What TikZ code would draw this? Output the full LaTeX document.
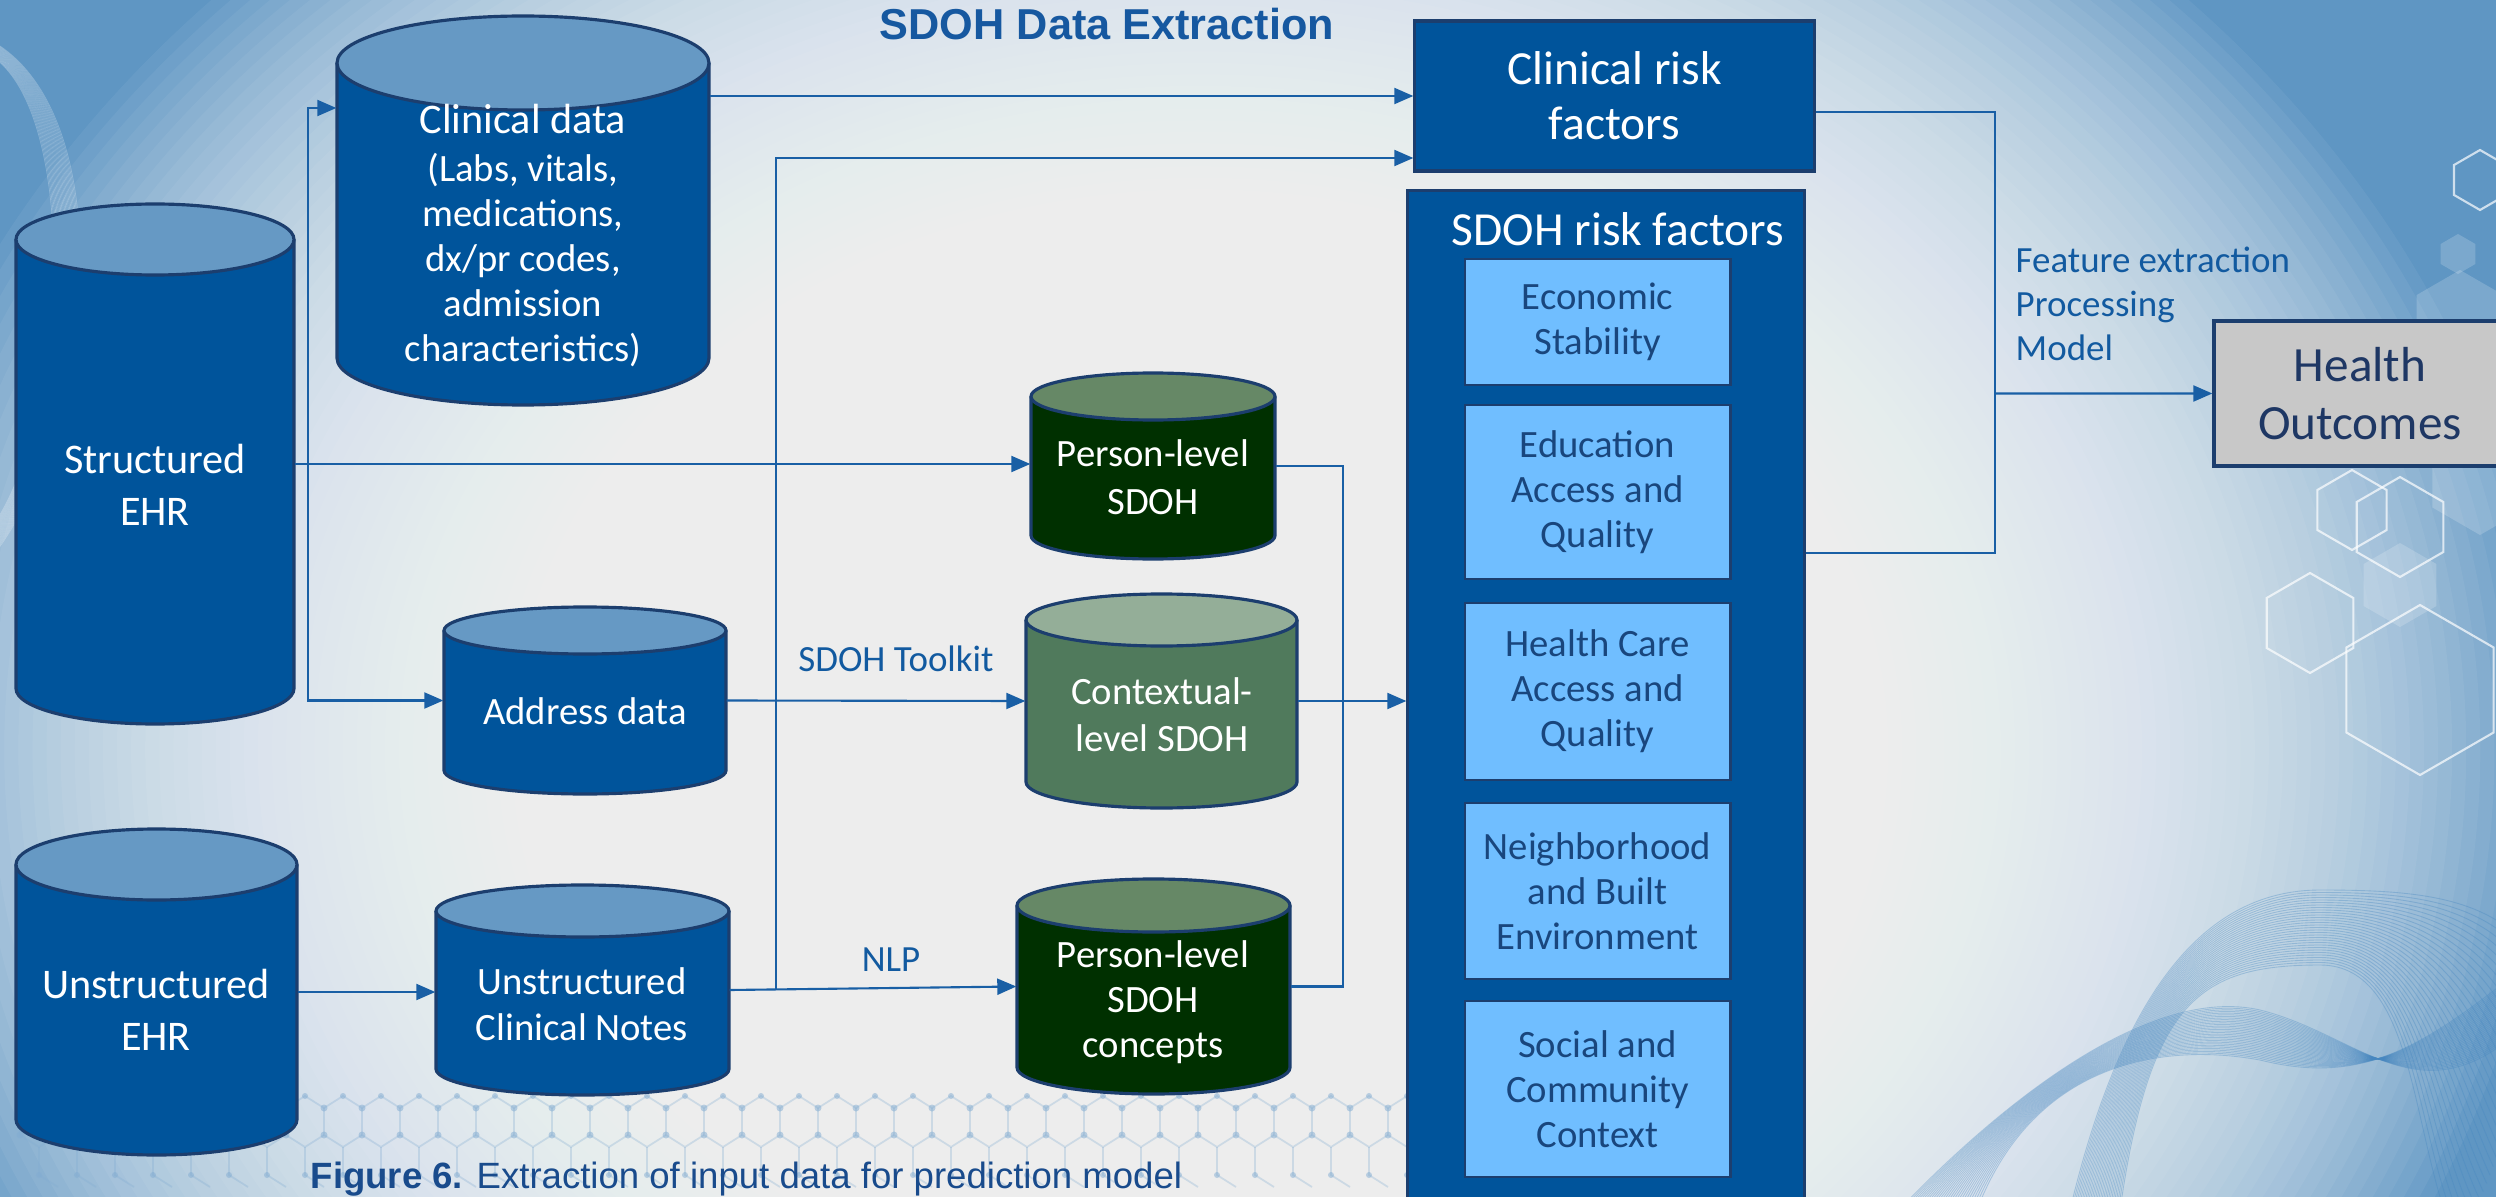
\documentclass[tikz,border=0pt]{standalone}
\usepackage{fontspec}
\setmainfont{Carlito}
\newfontfamily\arialfont{Liberation Sans}
\usetikzlibrary{arrows.meta,fit,calc}

\definecolor{cylBlue}{RGB}{0,84,155}
\definecolor{cylBlueTop}{RGB}{102,153,196}
\definecolor{cylEdge}{RGB}{28,62,110}
\definecolor{dkGreen}{RGB}{0,48,0}
\definecolor{dkGreenTop}{RGB}{102,136,102}
\definecolor{mdGreen}{RGB}{80,122,92}
\definecolor{mdGreenTop}{RGB}{148,174,152}
\definecolor{lightBox}{RGB}{112,190,255}
\definecolor{navyText}{RGB}{25,70,125}
\definecolor{hoText}{RGB}{30,55,100}
\definecolor{lineBlue}{RGB}{25,95,165}
\definecolor{labelBlue}{RGB}{18,90,160}
\definecolor{titleBlue}{RGB}{22,88,160}
\definecolor{capBlue}{RGB}{25,75,140}
\definecolor{outGray}{RGB}{200,200,200}
\definecolor{bgBase}{RGB}{95,150,195}
\definecolor{waveC}{RGB}{70,135,192}
\definecolor{molC}{RGB}{130,172,210}

\newcommand{\drawcyl}[8]{%
 \pgfmathsetmacro{\cyCX}{(#2+#3)/2}%
 \pgfmathsetmacro{\cyRX}{(#3-#2)/2}%
 \pgfmathsetmacro{\cyEY}{#6/2}%
 \pgfmathsetmacro{\cyYT}{#4+\cyEY}%
 \pgfmathsetmacro{\cyYB}{#5-\cyEY}%
 \pgfmathsetmacro{\cyKX}{0.5523*\cyRX}%
 \pgfmathsetmacro{\cyKY}{0.5523*\cyEY}%
 \fill[#7] (#2,\cyYT) -- (#2,\cyYB) .. controls (#2,\cyYB+\cyKY) and (\cyCX-\cyKX,#5) .. (\cyCX,#5)
   .. controls (\cyCX+\cyKX,#5) and (#3,\cyYB+\cyKY) .. (#3,\cyYB) -- (#3,\cyYT) -- cycle;
 \draw[cyledge] (#2,\cyYT) -- (#2,\cyYB) .. controls (#2,\cyYB+\cyKY) and (\cyCX-\cyKX,#5) .. (\cyCX,#5)
   .. controls (\cyCX+\cyKX,#5) and (#3,\cyYB+\cyKY) .. (#3,\cyYB) -- (#3,\cyYT);
 \filldraw[cyledge, fill=#8] (#2,\cyYT) .. controls (#2,\cyYT-\cyKY) and (\cyCX-\cyKX,#4) .. (\cyCX,#4)
   .. controls (\cyCX+\cyKX,#4) and (#3,\cyYT-\cyKY) .. (#3,\cyYT)
   .. controls (#3,\cyYT+\cyKY) and (\cyCX+\cyKX,\cyYT+\cyEY) .. (\cyCX,\cyYT+\cyEY)
   .. controls (\cyCX-\cyKX,\cyYT+\cyEY) and (#2,\cyYT+\cyKY) .. (#2,\cyYT) -- cycle;
 \node[fit={(#2,#4) (#3,#5)}, inner sep=0pt, draw=none] (#1) {};
}

\newcommand{\hexag}[4]{%
 \path[#4] (#1,#2) +(30:#3) -- +(90:#3) -- +(150:#3) -- +(210:#3) -- +(270:#3) -- +(330:#3) -- cycle;}

\begin{document}
\begin{tikzpicture}[x=0.01cm, y=-0.01cm,
  cyledge/.style={draw=cylEdge, line width=0.9pt},
  conn/.style={draw=lineBlue, line width=0.6pt, -{Triangle[length=0.19cm,width=0.16cm]}},
  plain/.style={draw=lineBlue, line width=0.6pt},
  cyltxt/.style={text=white, align=center, inner sep=0pt},
  lbl/.style={text=labelBlue, inner sep=0pt, font=\fontsize{10.5}{12.5}\selectfont},
  sbox/.style={fill=lightBox, draw=cylEdge, line width=0.8pt, minimum width=2.65cm, inner sep=0pt,
     text=navyText, align=center, font=\fontsize{11}{12.8}\selectfont},
  wave/.style={draw=waveC, line width=0.25pt, opacity=0.35},
  wavew/.style={draw=white, line width=0.2pt, opacity=0.25},
  hexo/.style={draw=white, line width=0.6pt, opacity=0.7},
  hexf/.style={fill=white, opacity=0.18},
  mol/.style={draw=molC, line width=0.5pt, opacity=0.3},
  moldot/.style={fill=molC, opacity=0.5}]

\useasboundingbox (0,0) rectangle (2496,1197);
\clip (0,0) rectangle (2496,1197);

% ---------- background ----------
\fill[bgBase] (0,0) rectangle (2496,1197);
\foreach \i in {0,...,69} {
  \pgfmathsetmacro{\gs}{1-0.72*\i/69}
  \pgfmathsetmacro{\grx}{13.5*\gs}
  \pgfmathsetmacro{\gry}{11*\gs}
  \fill[white, opacity=0.055] (1200,750) ellipse [x radius=\grx cm, y radius=\gry cm];
}

\foreach \i in {0,...,20} {
  \pgfmathsetmacro{\wt}{\i/20}
  \draw[wavew] (-10,40+15*\wt) .. controls (120-40*\wt,110) and (100-30*\wt,420) .. (-10,560-30*\wt);
}
\foreach \i in {0,...,30} {
  \pgfmathsetmacro{\wt}{\i/30}
  \draw[wave] (2070+50*\wt,1210) .. controls (2120+30*\wt,1000) and (2200,890+75*\wt) .. (2320,890+75*\wt)
     .. controls (2440-20*\wt,890+75*\wt) and (2520-110*\wt,900+250*\wt) .. (2560-100*\wt,1000+250*\wt);
}
\foreach \i in {0,...,30} {
  \pgfmathsetmacro{\wt}{\i/30}
  \draw[wave] (1880+90*\wt,1230) .. controls (2000+20*\wt,1100-30*\wt) and (2150,985+55*\wt) .. (2260,1010+50*\wt)
     .. controls (2360,1035+50*\wt) and (2420,1120-70*\wt) .. (2520,1030-60*\wt);
}

\hexag{2460}{320}{50}{hexf}
\hexag{2458}{254}{20}{hexf}
\hexag{2400}{585}{42}{hexf}
\hexag{2480}{480}{55}{hexf}
\hexag{2480}{180}{30}{hexo}
\hexag{2352}{510}{40}{hexo}
\hexag{2400}{527}{50}{hexo}
\hexag{2310}{623}{50}{hexo}
\hexag{2420}{690}{85}{hexo}

\foreach \k in {0,...,36} {
  \pgfmathsetmacro{\hx}{20+38*\k}
  \draw[mol] (\hx,1108) -- (\hx+19,1096) -- (\hx+38,1108);
  \draw[mol] (\hx,1108) -- (\hx,1135) -- (\hx+19,1147) -- (\hx+38,1135);
  \draw[mol] (\hx+19,1147) -- (\hx+19,1175) -- (\hx+38,1187);
  \fill[moldot] (\hx,1108) circle (0.035cm) (\hx+19,1096) circle (0.03cm) (\hx,1135) circle (0.035cm) (\hx+19,1175) circle (0.03cm);
}

% ---------- cylinders ----------
\drawcyl{sehr}{16}{294}{204}{724}{71}{cylBlue}{cylBlueTop}
\drawcyl{cdata}{337}{709}{16}{405}{94}{cylBlue}{cylBlueTop}
\drawcyl{psdoh}{1031}{1275}{373}{559}{47}{dkGreen}{dkGreenTop}
\drawcyl{addr}{444}{726}{607}{794}{47}{cylBlue}{cylBlueTop}
\drawcyl{csdoh}{1026}{1297}{594}{808}{52}{mdGreen}{mdGreenTop}
\drawcyl{uehr}{16}{297}{829}{1155}{71}{cylBlue}{cylBlueTop}
\drawcyl{ucn}{436}{729}{885}{1095}{52}{cylBlue}{cylBlueTop}
\drawcyl{psc}{1017}{1290}{879}{1094}{53}{dkGreen}{dkGreenTop}

\node[cyltxt, font=\fontsize{12}{14.8}\selectfont] (sehr-t) at (155,485) {Structured\\EHR};
\node[cyltxt, font=\fontsize{12}{14}\selectfont] (cdata-t1) at (523,119) {Clinical data};
\node[cyltxt, font=\fontsize{11}{12.8}\selectfont] (cdata-t2) at (523,260) {(Labs, vitals,\\medications,\\dx/pr codes,\\admission\\characteristics)};
\node[cyltxt, font=\fontsize{11}{13.6}\selectfont] (psdoh-t) at (1153,477) {Person-level\\SDOH};
\node[cyltxt, font=\fontsize{11}{13}\selectfont] (addr-t) at (585,711) {Address data};
\node[cyltxt, font=\fontsize{11}{13.3}\selectfont] (csdoh-t) at (1162,715) {Contextual-\\level SDOH};
\node[cyltxt, font=\fontsize{12}{14.8}\selectfont] (uehr-t) at (156,1010) {Unstructured\\EHR};
\node[cyltxt, font=\fontsize{11}{13}\selectfont] (ucn-t) at (582,1004) {Unstructured\\Clinical Notes};
\node[cyltxt, font=\fontsize{11}{12.8}\selectfont] (psc-t) at (1153,1002) {Person-level\\SDOH\\concepts};

% ---------- right-hand boxes ----------
\node[fill=cylBlue, draw=cylEdge, line width=0.9pt, minimum width=3.99cm, minimum height=1.5cm, inner sep=0pt,
  text=white, align=center, font=\fontsize{13.5}{15.6}\selectfont] (crf) at (1614.5,96) {Clinical risk\\factors};
\node[fill=cylBlue, draw=cylEdge, line width=0.9pt, minimum width=3.96cm, minimum height=10.2cm, inner sep=0pt] (srf) at (1606,701) {};
\node[text=white, inner sep=0pt, font=\fontsize{13.5}{15.6}\selectfont] (srf-t) at (1618,229) {SDOH risk factors};
\node[sbox, minimum height=1.26cm] (econ) at (1597.5,322) {Economic\\Stability};
\node[sbox, minimum height=1.74cm] (educ) at (1597.5,492) {Education\\Access and\\Quality};
\node[sbox, minimum height=1.77cm] (hcare) at (1597.5,691.5) {Health Care\\Access and\\Quality};
\node[sbox, minimum height=1.76cm] (neigh) at (1597.5,891) {Neighborhood\\and Built\\Environment};
\node[sbox, minimum height=1.76cm] (social) at (1597.5,1089) {Social and\\Community\\Context};
\node[fill=outGray, draw=cylEdge, line width=0.9pt, minimum width=2.92cm, minimum height=1.45cm, inner sep=0pt,
  text=hoText, align=center, font=\fontsize{14}{16.7}\selectfont] (ho) at (2360,393.5) {Health\\Outcomes};

% ---------- texts ----------
\node[anchor=base, inner sep=0pt, text=titleBlue, font=\arialfont\bfseries\fontsize{12.3}{14}\selectfont] (title) at (1107,40) {SDOH Data Extraction};
\node[lbl] (toolkit) at (896,659) {SDOH Toolkit};
\node[lbl] (nlp) at (891,960) {NLP};
\node[lbl, anchor=west, align=left] (feat) at (2015,304) {Feature extraction\\Processing\\Model};
\node[anchor=base west, inner sep=0pt, text=capBlue, font=\arialfont\fontsize{10.4}{12}\selectfont] (cap) at (310,1188) {\textbf{Figure 6.} Extraction of input data for prediction model};

% ---------- connectors ----------
\draw[conn] (sehr.east) -- (sehr.east -| psdoh.west);
\draw[conn] (sehr.east) -- ++(13,0) |- (cdata.west |- 0,108);
\draw[conn] (sehr.east) -- ++(13,0) |- (addr.west);
\draw[conn] (cdata.east |- crf.west) -- (crf.west);
\draw[conn] (uehr.east) -- (uehr.east -| ucn.west);
\draw[conn] (ucn.east) -- (psc.west);
\coordinate (nlpj) at ($(ucn.east)!0.16!(psc.west)$);
\draw[conn] (nlpj) |- (crf.west |- 0,158);
\draw[conn] (addr.east) -- (csdoh.west);
\draw[conn] (csdoh.east) -- (csdoh.east -| srf.west);
\coordinate (mj) at ($(csdoh.east)!0.42!(csdoh.east -| srf.west)$);
\draw[plain] (psdoh.east) -| (mj);
\draw[plain] (psc.east) -| (mj);
\coordinate (hj) at ($(srf.east |- ho.west)!0.466!(ho.west)$);
\draw[conn] (hj) -- (ho.west);
\draw[plain] (crf.east |- 0,112) -| (hj);
\draw[plain] (srf.east |- 0,553) -| (hj);
\end{tikzpicture}
\end{document}
